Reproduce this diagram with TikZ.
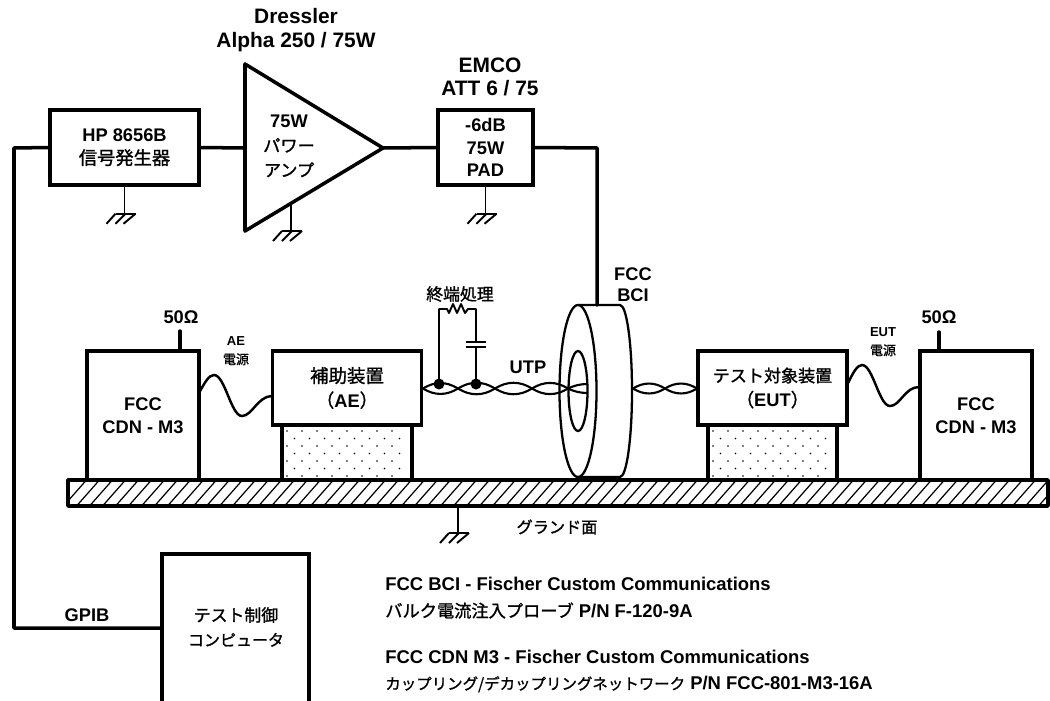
\documentclass[tikz,border=0pt]{standalone}
\usepackage{fontspec}
\setmainfont{Liberation Sans}
\newfontfamily\jpfont{Noto Sans CJK JP}[FakeBold=1.2]
\usepackage{tikz}
\newcommand{\jp}[2][9.8]{{\normalfont\jpfont\fontsize{#1}{13}\selectfont #2}}
\tikzset{
	wire/.style={line width=2pt, line join=round, line cap=round},
	thinwire/.style={line width=1.1pt, line join=round},
	unitbox/.style={draw, line width=2pt, fill=white, align=center, inner sep=0pt, font=\fontsize{10.4}{13}\selectfont\bfseries},
	standbox/.style={draw, line width=2pt, inner sep=0pt},
	caption/.style={align=center, inner sep=0pt, font=\fontsize{10.4}{13}\selectfont\bfseries},
	bigcaption/.style={align=center, inner sep=0pt, font=\fontsize{11.9}{13.5}\selectfont\bfseries},
	smallcaption/.style={align=center, inner sep=0pt, font=\fontsize{7.4}{10.5}\selectfont\bfseries},
	notes/.style={align=left, anchor=west, inner sep=0pt, font=\fontsize{10.5}{15}\selectfont\bfseries},
	gndsym/.pic={
		\draw[thinwire] (0,0) -- (0,27);
		\draw[thinwire] (-9,27) -- (11,27);
		\draw[thinwire] (-9,27) -- (-18,37);
		\draw[thinwire] (1,27) -- (-9,37);
		\draw[thinwire] (11,27) -- (-1,37);
	}
}

\begin{document}
\begin{tikzpicture}[x=0.02cm, y=-0.02cm]

% frame %{{{2

	\useasboundingbox (0,0) rectangle (1050,700);
	\clip (0,0) rectangle (1050,700);

% coordinates %{{{2

	\coordinate (AmpA) at (245,64);
	\coordinate (AmpB) at (245,231);
	\coordinate (AmpC) at (383,148);
	\coordinate (AmpIn) at (245,148);
	\coordinate (BusTop) at (14,148);
	\coordinate (BusBot) at (14,628);
	\coordinate (PadBend) at (597,148);
	\coordinate (BciTop) at (597,305);
	\coordinate (BciFront) at (578,391);
	\coordinate (CdnAStub) at (180,331);
	\coordinate (CdnBStub) at (939,332);

% units %{{{2

	\node[unitbox, minimum width=149*0.02cm, minimum height=75*0.02cm] (hp) at (124.5,147.5)
		{HP 8656B\\[0pt]\jp[10.4]{信号発生器}};
	\node[unitbox, minimum width=95*0.02cm, minimum height=75*0.02cm] (pad) at (485.5,147.5)
		{-6dB\\75W\\PAD};
	\node[unitbox, minimum width=112*0.02cm, minimum height=129*0.02cm] (cdna) at (143,415.5)
		{FCC\\CDN - M3};
	\node[unitbox, minimum width=112*0.02cm, minimum height=129*0.02cm] (cdnb) at (976,415.5)
		{FCC\\CDN - M3};
	\node[unitbox, minimum width=149*0.02cm, minimum height=74*0.02cm] (ae) at (347,388)
		{\jp[10.5]{補助装置}\\[1pt]\jp[10.5]{（}AE\jp[10.5]{）}};
	\node[unitbox, minimum width=149*0.02cm, minimum height=74*0.02cm] (eut) at (772.5,388)
		{\jp[9.7]{テスト対象装置}\\[1pt]\jp[10.5]{（}EUT\jp[10.5]{）}};
	\node[unitbox, minimum width=147*0.02cm, minimum height=160*0.02cm] (pc) at (235.5,634) {};

% stands %{{{2

	\node[standbox, minimum width=130*0.02cm, minimum height=55*0.02cm] (standa) at (347,452.5) {};
	\node[standbox, minimum width=129*0.02cm, minimum height=55*0.02cm] (standb) at (772.5,452.5) {};
	\foreach \r in {0,...,6} {
		\pgfmathsetmacro{\offs}{mod(\r,2)*7.5}
		\foreach \c in {0,...,7} {
			\fill ({287+\c*15+\offs},{431+\r*7.5}) circle (0.8);
			\fill ({713+\c*15+\offs},{431+\r*7.5}) circle (0.8);
		}
	}

% ground plate %{{{2

	\begin{scope}
		\clip (68,480) rectangle (1048,506);
		\foreach \x in {60,73,...,1070} {
			\draw[line width=0.7pt] (\x,510) -- (\x+30,476);
		}
	\end{scope}
	\draw[wire] (68,480) rectangle (1048,506);

% amplifier %{{{2

	\draw[wire] (AmpA) -- (AmpB) -- (AmpC) -- cycle;

% wires %{{{2

	\draw[wire] (hp.west) -- (BusTop) -- (BusBot) -- (BusBot -| pc.west);
	\draw[wire] (hp.east) -- (AmpIn);
	\draw[wire] (AmpC) -- (pad.west);
	\draw[wire] (pad.east) -- (PadBend) -- (BciTop);
	\draw[wire] (cdna.north -| CdnAStub) -- (CdnAStub);
	\draw[wire] (cdnb.north -| CdnBStub) -- (CdnBStub);

% power cables %{{{2

	\draw[line width=1.4pt] (199,393) .. controls (205,382) and (209,375) .. (214,375)
		.. controls (225,375) and (231,416) .. (242,416)
		.. controls (252,416) and (258,396) .. (272,396);
	\draw[line width=1.4pt] (848,383) .. controls (853,373) and (857,365) .. (862,365)
		.. controls (873,365) and (879,406) .. (890,406)
		.. controls (900,406) and (905,387) .. (919,387);

% grounds %{{{2

	\pic at (hp.south) {gndsym};
	\pic at (pad.south) {gndsym};
	\pic at (291,204) {gndsym};
	\pic at (458,506) {gndsym};

% current probe %{{{2

	\draw[line width=1.3pt] (BciFront) ++(0,-86) -- ++(42,0)
		arc [start angle=-90, end angle=90, x radius=12, y radius=86] -- ++(-42,0);
	\draw[line width=1.3pt] (BciFront) circle [x radius=18.5, y radius=86];
	\draw[line width=1.3pt] (BciFront) circle [x radius=9.5, y radius=40];

% twisted pair %{{{2

	\foreach \i/\x in {1/423,2/458,3/495,4/532,5/568,6/633,7/665,8/697} {
		\coordinate (T\i) at (\x,388.5);
	}
	\coordinate (Ta) at (588,384);
	\coordinate (Tb) at (588,393);
	\foreach \a/\b in {T1/T2,T2/T3,T3/T4,T4/T5,T6/T7,T7/T8} {
		\draw[line width=1.2pt] (\a) to[bend left=32] (\b);
		\draw[line width=1.2pt] (\a) to[bend right=32] (\b);
	}
	\draw[line width=1.2pt] (T5) to[bend left=12] (Ta);
	\draw[line width=1.2pt] (T5) to[bend right=12] (Tb);

% termination %{{{2

	\coordinate (Da) at (439,384);
	\coordinate (Db) at (476,384);
	\coordinate (Ra) at (439,309);
	\coordinate (Rb) at (476,309);
	\coordinate (Ca) at (476,342);
	\coordinate (Cb) at (476,347);
	\draw[thinwire] (Da) -- (Ra) -- (447,309) -- (449,313) -- (453,304) -- (457,313)
		-- (461,304) -- (465,313) -- (468,309) -- (Rb) -- (Ca);
	\draw[thinwire] (Cb) -- (Db);
	\draw[thinwire] (466,342) -- (486,342);
	\draw[thinwire] (466,347) -- (486,347);
	\fill (Da) circle (5.5);
	\fill (Db) circle (5.5);

% labels %{{{2

	\node[bigcaption] (dressler) at (296,30) {Dressler\\Alpha 250 / 75W};
	\node[bigcaption] (emco) at (490,77) {EMCO\\ATT 6 / 75};
	\node[caption] (amplabel) at (289,146) {75W\\[1pt]\jp{パワー}\\[1pt]\jp{アンプ}};
	\node[caption] (bcilabel) at (633,285) {FCC\\[-1pt]BCI};
	\node[caption] (termlabel) at (460,294) {\jp[9.6]{終端処理}};
	\node[caption] (utplabel) at (528,367) {UTP};
	\node[caption] (ohma) at (181,317) {50Ω};
	\node[caption] (ohmb) at (939,317) {50Ω};
	\node[smallcaption] (aepower) at (236,351) {AE\\\jp[7.4]{電源}};
	\node[smallcaption] (eutpower) at (883,342) {EUT\\\jp[7.4]{電源}};
	\node[caption] (gndlabel) at (557,527) {\jp[9.2]{グランド面}};
	\node[caption] (gpib) at (87,615) {GPIB};
	\node[caption] (pclabel) at (236,627) {\jp[9.6]{テスト制御}\\[1pt]\jp[9.1]{コンピュータ}};

% notes %{{{2

	\node[notes] (noteb) at (385,598) {FCC BCI - Fischer Custom Communications\\\jp[9.8]{バルク電流注入プローブ} P/N F-120-9A};
	\node[notes] (notec) at (385,671) {FCC CDN M3 - Fischer Custom Communications\\\jp[8.8]{カップリング/デカップリングネットワーク} P/N FCC-801-M3-16A};

% closing %{{{2

\end{tikzpicture}
\end{document}
